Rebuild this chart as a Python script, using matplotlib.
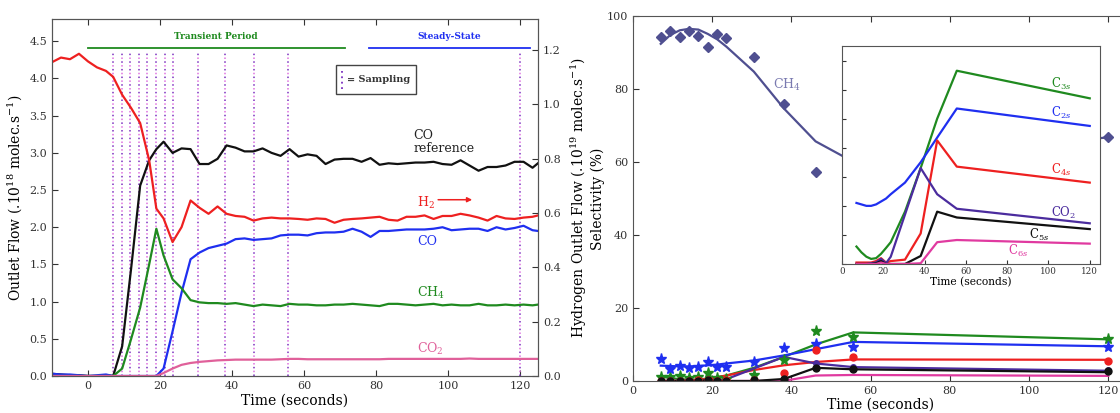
import matplotlib
matplotlib.use('Agg')
import matplotlib.pyplot as plt
from matplotlib.patches import Rectangle

plt.rcParams['font.family'] = ['DejaVu Serif']
plt.rcParams['mathtext.fontset'] = 'dejavuserif'
plt.rcParams['xtick.direction'] = 'in'
plt.rcParams['ytick.direction'] = 'in'
plt.rcParams['axes.edgecolor'] = '#555555'
plt.rcParams['xtick.color'] = '#333333'
plt.rcParams['ytick.color'] = '#333333'

# ---- left panel: outlet flows vs time ----
t = [-10, -7.5, -5, -2.5, 0, 2.5, 5, 7, 9.5, 12, 14.5, 17, 19, 21, 23.5, 26, 28.5, 31,
     33.5, 36, 38.5, 41, 43.5, 46, 48.5, 51, 53.5, 56, 58.5, 61, 63.5, 66, 68.5, 71,
     73.5, 76, 78.5, 81, 83.5, 86, 88.5, 91, 93.5, 96, 98.5, 101, 103.5, 106, 108.5,
     111, 113.5, 116, 118.5, 121, 123.5, 125]

# hydrogen, in 1e19 molec/s (right axis)
h2 = [1.155, 1.172, 1.166, 1.186, 1.158, 1.136, 1.123, 1.101, 1.035, 0.986,
      0.931, 0.794, 0.616, 0.580, 0.493, 0.548, 0.646, 0.619, 0.597, 0.624,
      0.597, 0.589, 0.586, 0.572, 0.580, 0.583, 0.580, 0.580, 0.578, 0.575,
      0.580, 0.578, 0.564, 0.575, 0.578, 0.580, 0.583, 0.586, 0.575, 0.572,
      0.586, 0.586, 0.591, 0.578, 0.589, 0.589, 0.597, 0.591, 0.583, 0.572,
      0.589, 0.580, 0.578, 0.583, 0.586, 0.591]
co_ref = [0.03, 0.02, 0.01, 0.01, 0.0, 0.0, 0.01, 0.0, 0.4, 1.45,
          2.56, 2.9, 3.05, 3.15, 3.0, 3.06, 3.05, 2.85, 2.85, 2.92,
          3.1, 3.07, 3.02, 3.02, 3.06, 3.0, 2.96, 3.05, 2.95, 2.98,
          2.96, 2.85, 2.91, 2.92, 2.92, 2.88, 2.93, 2.84, 2.86, 2.85,
          2.86, 2.87, 2.87, 2.88, 2.85, 2.84, 2.9, 2.83, 2.76, 2.81,
          2.81, 2.83, 2.88, 2.88, 2.8, 2.86]
co = [0.03, 0.02, 0.02, 0.01, 0.0, 0.01, 0.02, 0.0, 0.0, 0.0,
      0.0, 0.0, 0.0, 0.1, 0.6, 1.12, 1.57, 1.66, 1.72, 1.75,
      1.78, 1.84, 1.85, 1.83, 1.84, 1.85, 1.89, 1.9, 1.9, 1.89,
      1.92, 1.93, 1.93, 1.94, 1.98, 1.94, 1.87, 1.95, 1.95, 1.96,
      1.97, 1.97, 1.97, 1.98, 2.0, 1.96, 1.97, 1.98, 1.98, 1.95,
      2.0, 1.97, 1.99, 2.02, 1.96, 1.95]
ch4 = [0.0, 0.0, 0.0, 0.0, 0.0, 0.0, 0.0, 0.0, 0.1, 0.5,
       0.92, 1.5, 1.98, 1.62, 1.3, 1.18, 1.02, 0.99, 0.98, 0.98,
       0.97, 0.98, 0.96, 0.94, 0.96, 0.95, 0.94, 0.97, 0.96, 0.96,
       0.95, 0.95, 0.96, 0.96, 0.97, 0.96, 0.95, 0.94, 0.97, 0.97,
       0.96, 0.95, 0.96, 0.97, 0.95, 0.96, 0.95, 0.95, 0.97, 0.95,
       0.95, 0.96, 0.95, 0.96, 0.95, 0.96]
co2 = [0.0, 0.0, 0.0, 0.0, 0.0, 0.0, 0.0, 0.0, 0.0, 0.0,
       0.0, 0.0, 0.0, 0.04, 0.1, 0.15, 0.175, 0.19, 0.2, 0.21,
       0.215, 0.22, 0.22, 0.22, 0.22, 0.22, 0.225, 0.23, 0.23, 0.225,
       0.225, 0.225, 0.225, 0.225, 0.225, 0.225, 0.225, 0.225, 0.23, 0.23,
       0.23, 0.23, 0.23, 0.23, 0.23, 0.23, 0.23, 0.235, 0.23, 0.23,
       0.23, 0.23, 0.23, 0.23, 0.23, 0.23]

transient = (0, 71.3)
steady = (78, 122.7)

# ---- right panel: selectivity at sampling times ----
sample_t = [7.0, 9.4, 11.8, 14.1, 16.5, 18.9, 21.3, 23.6, 30.5, 38.1, 46.1, 55.6, 120.0]

ch4_pts = [94.1, 95.9, 94.3, 95.7, 94.5, 91.4, 95.0, 93.9, 88.8, 75.8, 57.3, 59.0, 66.7]
ch4_fit = [92.3, 94.7, 96.0, 96.4, 96.2, 95.0, 93.5, 91.5, 84.7, 74.6, 65.6, 60.0, 66.7]
c2_pts = [5.9, 3.2, 4.1, 3.5, 3.7, 5.3, 3.7, 3.7, 5.3, 8.9, 10.0, 9.3, 9.4]
c2_fit = [4.2, 4.1, 4.0, 4.0, 4.1, 4.3, 4.5, 4.8, 5.6, 7.0, 8.7, 10.7, 9.5]
c3_pts = [1.0, 1.0, 1.4, 0.9, 1.2, 2.3, 0.8, 0.6, 1.7, 5.8, 13.8, 12.0, 11.5]
c3_fit = [1.2, 0.8, 0.5, 0.35, 0.4, 0.7, 1.1, 1.5, 3.6, 6.6, 10.0, 13.3, 11.4]
c4_pts = [0.1, 0.1, 0.1, 0.1, 0.2, 0.4, 0.1, 0.2, 0.3, 2.1, 8.5, 6.7, 5.6]
c4_fit = [0.0, 0.0, 0.05, 0.1, 0.3, 0.6, 1.0, 1.5, 3.0, 4.3, 5.2, 5.9, 5.8]
c5_pts = [0.0, 0.0, 0.0, 0.0, 0.0, 0.2, 0.0, 0.0, 0.2, 0.5, 3.6, 3.4, 2.7]
c5_fit = [0.0, 0.0, 0.0, 0.0, 0.05, 0.2, 0.0, 0.0, 0.0, 0.55, 3.6, 3.2, 2.4]
c6_fit = [0.0, 0.0, 0.0, 0.0, 0.0, 0.1, 0.0, 0.0, 0.0, 0.05, 1.5, 1.65, 1.4]
co2_pts = [0.0, 0.0, 0.0, 0.0, 0.0, 0.3, 0.0, 0.0, 0.2, 0.6, 4.9, 3.9, 3.0]
co2_fit = [0.0, 0.0, 0.0, 0.05, 0.1, 0.35, 0.05, 0.5, 3.4, 6.6, 4.8, 3.8, 2.8]

GREEN = '#1f8a1f'
RED = '#ee2020'
BLUE = '#1f2ff0'
BLACK = '#111111'
PINK = '#e0609a'
MAGENTA = '#e03aa0'
PURPLE = '#4b2c9e'
SLATE = '#4f4f90'

fig = plt.figure(figsize=(11.2, 4.13), dpi=100)

# ================= left panel =================
ax = fig.add_axes([0.0464, 0.0896, 0.4339, 0.8644])
ax2 = ax.twinx()

# sampling markers (dotted purple / pink)
ax.vlines(sample_t, 0, 4.35, colors='#7b2fbf', linestyles=(0, (1, 4)), linewidth=1.1)
ax.vlines(sample_t, 0, 4.35, colors='#e070e0', linestyles=(2.5, (1, 4)), linewidth=1.1)

ax.plot(t, co_ref, color=BLACK, lw=1.6)
ax.plot(t, co, color=BLUE, lw=1.6)
ax.plot(t, ch4, color=GREEN, lw=1.6)
ax.plot(t, co2, color=PINK, lw=1.6)
ax2.plot(t, h2, color=RED, lw=1.6)

ax.set_xlim(-10, 125)
ax.set_ylim(0, 4.8)
ax2.set_ylim(0, 1.314)
ax.set_xticks([0, 20, 40, 60, 80, 100, 120])
ax.set_yticks([0, 0.5, 1.0, 1.5, 2.0, 2.5, 3.0, 3.5, 4.0, 4.5])
ax2.set_yticks([0, 0.2, 0.4, 0.6, 0.8, 1.0, 1.2])
ax.tick_params(top=True, right=False, labelsize=8, length=4)
ax2.tick_params(labelsize=8, length=4)
ax.set_xlabel('Time (seconds)', fontsize=10, labelpad=2)
ax.set_ylabel('Outlet Flow (.10$^{18}$ molec.s$^{-1}$)', fontsize=10, labelpad=4)
ax2.set_ylabel('Hydrogen Outlet Flow (.10$^{19}$ molec.s$^{-1}$)', fontsize=10, labelpad=6)

# periods
ax.plot(transient, [4.41, 4.41], color=GREEN, lw=1.3)
ax.plot(steady, [4.41, 4.41], color=BLUE, lw=1.3)
ax.text(sum(transient) / 2, 4.5, 'Transient Period', color=GREEN, fontsize=6.5,
        fontweight='bold', ha='center', va='bottom')
ax.text(sum(steady) / 2, 4.5, 'Steady-State', color=BLUE, fontsize=6.5,
        fontweight='bold', ha='center', va='bottom')

# sampling key box
ax.add_patch(Rectangle((0.584, 0.79), 0.165, 0.08, transform=ax.transAxes,
                       facecolor='white', edgecolor='#444444', lw=1.0, zorder=5))
ax.plot([0.596, 0.596], [0.805, 0.855], transform=ax.transAxes, color='#7b2fbf',
        ls=(0, (1, 2)), lw=1.3, zorder=6)
ax.text(0.607, 0.83, '= Sampling', transform=ax.transAxes, fontsize=7,
        fontweight='bold', color='#333333', va='center', ha='left', zorder=6)

# series labels
ax.text(90.4, 3.15, 'CO\nreference', color='#222222', fontsize=9, ha='left',
        va='center', linespacing=1.0)
ax.text(91.4, 2.33, 'H$_2$', color=RED, fontsize=9, ha='left', va='center')
ax.annotate('', xy=(107.5, 2.37), xytext=(96.5, 2.37),
            arrowprops=dict(arrowstyle='-|>', color=RED, lw=1.1, mutation_scale=7))
ax.text(91.4, 1.81, 'CO', color=BLUE, fontsize=9, ha='left', va='center')
ax.text(91.4, 1.11, 'CH$_4$', color=GREEN, fontsize=9, ha='left', va='center')
ax.text(91.4, 0.37, 'CO$_2$', color=PINK, fontsize=9, ha='left', va='center')

# ================= right panel =================
ax3 = fig.add_axes([0.5652, 0.0775, 0.442, 0.8845])
ax3.plot(sample_t, ch4_fit, color=SLATE, lw=1.6)
ax3.plot(sample_t, ch4_pts, 'D', color=SLATE, ms=5, ls='none')

ax3.plot(sample_t, c3_fit, color=GREEN, lw=1.6)
ax3.plot(sample_t, c2_fit, color=BLUE, lw=1.6)
ax3.plot(sample_t, c4_fit, color=RED, lw=1.6)
ax3.plot(sample_t, co2_fit, color=PURPLE, lw=1.6)
ax3.plot(sample_t, c6_fit, color=MAGENTA, lw=1.6)
ax3.plot(sample_t, c5_fit, color=BLACK, lw=1.6)
ax3.plot(sample_t, c3_pts, '*', color=GREEN, ms=8, ls='none')
ax3.plot(sample_t, c2_pts, '*', color=BLUE, ms=8, ls='none')
ax3.plot(sample_t, c4_pts, 'o', color=RED, ms=5, ls='none')
ax3.plot(sample_t, co2_pts, 'o', color=PURPLE, ms=4, ls='none')
ax3.plot(sample_t, c5_pts, 'o', color=BLACK, ms=5, ls='none')

ax3.set_xlim(0, 125)
ax3.set_ylim(0, 100)
ax3.set_xticks([0, 20, 40, 60, 80, 100, 120])
ax3.set_yticks([0, 20, 40, 60, 80, 100])
ax3.tick_params(top=True, right=True, labelsize=8, length=4)
ax3.set_xlabel('Time (seconds)', fontsize=10, labelpad=1)
ax3.set_ylabel('Selectivity (%)', fontsize=10, labelpad=1)
ax3.text(35.4, 81, 'CH$_4$', color='#7a7ab0', fontsize=9, ha='left', va='center')

# inset: zoom on the minor products
axi = fig.add_axes([0.7518, 0.3608, 0.2304, 0.5278])
axi.plot(sample_t, c3_fit, color=GREEN, lw=1.6)
axi.plot(sample_t, c2_fit, color=BLUE, lw=1.6)
axi.plot(sample_t, c4_pts, color=RED, lw=1.6)
axi.plot(sample_t, co2_fit, color=PURPLE, lw=1.6)
axi.plot(sample_t, c5_fit, color=BLACK, lw=1.6)
axi.plot(sample_t, c6_fit, color=MAGENTA, lw=1.6)
axi.set_xlim(0, 125)
axi.set_ylim(0, 15)
axi.set_xticks([0, 20, 40, 60, 80, 100, 120])
axi.set_yticklabels([])
axi.tick_params(labelsize=6.3, length=3, pad=2)
axi.set_xlabel('Time (seconds)', fontsize=7.7, labelpad=1)

axi.text(101, 12.4, 'C$_{3s}$', color=GREEN, fontsize=8.5, ha='left', va='center')
axi.text(101, 10.4, 'C$_{2s}$', color=BLUE, fontsize=8.5, ha='left', va='center')
axi.text(101, 6.5, 'C$_{4s}$', color=RED, fontsize=8.5, ha='left', va='center')
axi.text(101, 3.5, 'CO$_2$', color=PURPLE, fontsize=8.5, ha='left', va='center')
axi.text(90.8, 2.0, 'C$_{5s}$', color=BLACK, fontsize=8.5, ha='left', va='center')
axi.text(80.5, 0.9, 'C$_{6s}$', color=MAGENTA, fontsize=8.5, ha='left', va='center')

fig.savefig('out.png', dpi=100)
